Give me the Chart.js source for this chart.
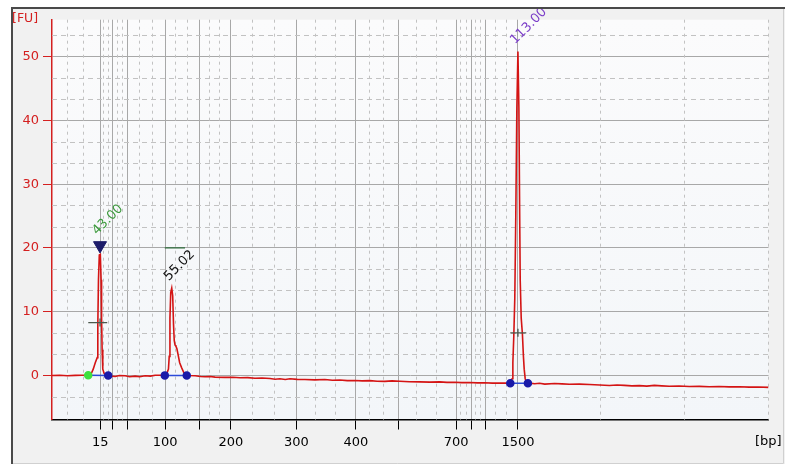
<!DOCTYPE html>
<html>
<head>
<meta charset="utf-8">
<script src="https://cdn.jsdelivr.net/npm/chart.js@4/dist/chart.umd.min.js"></script>
<style>
  html, body { margin:0; padding:0; background:#fff; }
</style>
</head>
<body>
<canvas id="chart" width="785" height="464"></canvas>
<script>
// ladder bands: migration time (s) and size label shown on the axis
const ladderTimes = [43.0, 45.1, 47.55, 53.85, 59.55, 64.9, 75.85, 85.85, 92.9, 102.65, 105.25, 107.6, 113.0];
const ladderLabels = ["15", "", "", "100", "", "200", "300", "400", "", "700", "", "", "1500"];
const yTicks = [0, 10, 20, 30, 40, 50];

// electropherogram trace
const traceTime = [
  34.90, 36.20, 37.50, 38.80, 39.90, 40.60, 41.00, 41.48, 41.81, 42.15, 42.48, 42.58, 42.69, 42.83,
  43.00, 43.13, 43.21, 43.30, 43.41, 43.65, 44.32, 45.00, 45.50, 46.20, 47.17, 47.90, 48.84, 49.60,
  50.52, 51.40, 52.19, 53.36,
  54.10, 54.42, 54.55, 54.67, 54.80, 54.97, 55.13, 55.27, 55.39, 55.52, 55.66, 55.84, 56.05, 56.30,
  56.64, 56.97, 57.31, 57.81,
  58.90, 59.80, 60.56, 61.40, 62.23, 63.90, 65.20, 66.41, 67.70, 68.92, 70.10, 71.43, 72.30, 73.10,
  74.00, 74.78, 76.00, 77.29, 78.97, 80.64, 81.90, 83.15, 84.40, 85.66, 86.90, 88.17, 89.40, 90.68,
  91.90, 93.19, 94.80, 96.54, 98.20, 99.89, 101.10, 102.40, 103.60, 104.91, 106.20, 107.42, 108.70,
  109.93, 111.27,
  111.77, 112.02, 112.15, 112.30, 112.47, 112.64, 112.82, 113.00, 113.16, 113.27, 113.38, 113.55,
  113.75, 113.92, 114.05, 114.22, 114.47, 114.95,
  115.80, 116.62, 117.50, 119.13, 120.40, 121.64, 123.30, 124.99, 126.70, 128.33, 129.60, 130.84,
  132.10, 133.35, 134.60, 135.86, 137.10, 138.37, 140.00, 141.72, 143.40, 145.06, 146.70, 148.41,
  150.10, 151.76, 153.30, 155.00
];
const traceFU = [
  0.00, 0.03, -0.04, 0.02, 0.05, 0.08, 0.15, 0.30, 1.0, 2.0, 2.8, 8.0, 15.0, 18.9,
  19.0, 15.0, 9.0, 4.0, 1.0, 0.3, 0.0, -0.1, -0.15, 0.0, -0.05, -0.2, -0.1, -0.2,
  -0.05, -0.1, 0.05, 0.05,
  0.2, 1.0, 3.0, 9.0, 13.0, 13.7, 12.5, 8.0, 5.5, 4.8, 4.6, 4.2, 3.2, 2.0,
  1.2, 0.5, 0.2, 0.0,
  -0.05, -0.15, -0.2, -0.15, -0.25, -0.3, -0.28, -0.35, -0.33, -0.42, -0.4, -0.48, -0.58, -0.5,
  -0.62, -0.52, -0.6, -0.62, -0.68, -0.62, -0.74, -0.7, -0.8, -0.78, -0.85, -0.8, -0.9, -0.92,
  -0.85, -0.9, -0.98, -1.0, -1.04, -1.0, -1.08, -1.05, -1.12, -1.1, -1.15, -1.13, -1.2,
  -1.18, -1.2,
  -1.1, -0.5, 2.0, 6.0, 12.0, 25.0, 42.0, 50.8, 42.0, 28.0, 15.0, 9.0,
  6.5, 3.0, 1.0, -0.5, -1.1, -1.2,
  -1.3, -1.22, -1.35, -1.25, -1.32, -1.38, -1.35, -1.42, -1.5, -1.56, -1.48, -1.55,
  -1.62, -1.58, -1.66, -1.55, -1.62, -1.68, -1.65, -1.72, -1.7, -1.76, -1.73, -1.78,
  -1.76, -1.82, -1.8, -1.86
];

// called peaks
const peakTimes = [42.95, 54.97, 113.0];
const peakFU = [19.0, 13.7, 50.8];
const peakLabels = ["43.00", "55.02", "113.00"];

// peak start / end (baseline) points
const baseStartTime = [40.97, 53.81, 111.72];
const baseStartFU = [0.05, 0.02, -1.2];
const baseEndTime = [44.32, 57.49, 114.67];
const baseEndFU = [0.0, 0.0, -1.2];

// width markers
const widthFrom = [40.98, 53.81, 111.72];
const widthTo = [44.16, 57.2, 114.4];
const widthLevel = [8.3, 20.0, 6.7];

// selected-peak marker
const markerTime = [42.95];
const markerFU = [20.4];

Chart.defaults.font.family = "'DejaVu Sans', Verdana, sans-serif";

const RED = "#d42020";

// baseline segments, broken with nulls
const basePts = [];
const baseColors = [];
peakTimes.forEach((_, i) => {
  basePts.push({x: baseStartTime[i], y: baseStartFU[i]}, {x: baseEndTime[i], y: baseEndFU[i]}, {x: baseEndTime[i] + 0.01, y: null});
  baseColors.push(i === 0 ? "#3ee03e" : "#1a1aa8", "#1a1aa8", "#1a1aa8");
});

const widthPts = [];
[0, 2].forEach(i => {
  widthPts.push({x: widthFrom[i], y: widthLevel[i]}, {x: widthTo[i], y: widthLevel[i]}, {x: widthTo[i] + 0.01, y: null});
});

const panel = {
  id: "panel",
  beforeDraw(chart){
    const {ctx, chartArea:a} = chart;
    ctx.save();
    ctx.fillStyle = "#f1f1f1";
    ctx.fillRect(0, 0, chart.width, chart.height);
    const g = ctx.createLinearGradient(0, a.top, 0, a.bottom);
    g.addColorStop(0, "#fbfbfc");
    g.addColorStop(1, "#f3f6f9");
    ctx.fillStyle = g;
    ctx.fillRect(a.left, a.top, a.right - a.left, a.bottom - a.top);
    ctx.restore();
  }
};

const minorGrid = {
  id: "minorGrid",
  beforeDatasetsDraw(chart){
    const {ctx, chartArea:a, scales:{x, y}} = chart;
    ctx.save();
    ctx.strokeStyle = "#c2c2c2";
    ctx.lineWidth = 1;
    // vertical: thirds between ladder lines
    ctx.setLineDash([3, 4]);
    const xs = [x.min, ...ladderTimes, x.max];
    const vx = [];
    for (let i = 0; i < xs.length - 1; i++){
      vx.push(xs[i] + (xs[i+1] - xs[i]) / 3, xs[i] + (xs[i+1] - xs[i]) * 2 / 3);
    }
    vx.push(x.max);
    vx.forEach(v => {
      const px = Math.round(x.getPixelForValue(v)) - 0.5;
      ctx.beginPath(); ctx.moveTo(px, a.top); ctx.lineTo(px, a.bottom); ctx.stroke();
    });
    // horizontal: thirds between major ticks
    ctx.setLineDash([5, 4]);
    for (let v = -10; v <= 60; v += 10){
      [v + 10/3, v + 20/3].forEach(h => {
        if (h <= y.min + 0.5 || h >= y.max) return;
        const py = Math.round(y.getPixelForValue(h)) + 0.5;
        ctx.beginPath(); ctx.moveTo(a.left, py); ctx.lineTo(a.right, py); ctx.stroke();
      });
    }
    ctx.restore();
  }
};

const annotate = {
  id: "annotate",
  afterDraw(chart){
    const {ctx, chartArea:a, scales:{x, y}} = chart;
    ctx.save();
    // peak labels
    const cols = ["#3c9a3c", "#111111", "#7a3cc8"];
    ctx.font = "13px 'DejaVu Sans'";
    ctx.textAlign = "left";
    ctx.textBaseline = "alphabetic";
    peakTimes.forEach((t, i) => {
      const px = x.getPixelForValue(t);
      const py = y.getPixelForValue(peakFU[i]);
      const off = i === 0 ? 19 : 7;
      ctx.save();
      ctx.translate(px - 3, py - off);
      ctx.rotate(-Math.PI / 4);
      ctx.fillStyle = cols[i];
      ctx.fillText(peakLabels[i], 0, 0);
      ctx.restore();
    });
    // axis units
    ctx.fillStyle = "#000";
    ctx.font = "13px 'DejaVu Sans'";
    ctx.textBaseline = "middle";
    ctx.fillText("[bp]", 755, 442);
    ctx.fillStyle = RED;
    ctx.font = "12.5px 'DejaVu Sans'";
    ctx.fillText("[FU]", 12, 19);
    // outer frame
    ctx.fillStyle = "#fff";
    ctx.fillRect(0, 0, chart.width, 7);
    ctx.fillRect(0, 0, 11, chart.height);
    ctx.strokeStyle = "#d0d0d0";
    ctx.lineWidth = 1;
    ctx.beginPath(); ctx.moveTo(783.5, 7); ctx.lineTo(783.5, 463.5); ctx.lineTo(11, 463.5); ctx.stroke();
    ctx.strokeStyle = "#4a4a4a";
    ctx.lineWidth = 2;
    ctx.beginPath(); ctx.moveTo(785, 8); ctx.lineTo(12, 8); ctx.lineTo(12, 464); ctx.stroke();
    ctx.restore();
  }
};

new Chart(document.getElementById("chart"), {
  type: "line",
  data: {
    datasets: [
      {
        data: markerTime.map((t, i) => ({x: t, y: markerFU[i]})),
        showLine: false, pointStyle: "triangle", rotation: 180, pointRadius: 7.5,
        pointBackgroundColor: "#1c1c6a", pointBorderColor: "#1c1c6a", order: 1
      },
      {
        data: basePts, spanGaps: false, borderColor: "#2a4ad8", borderWidth: 1.5,
        pointRadius: 3.5, pointBackgroundColor: baseColors, pointBorderColor: baseColors, order: 2
      },
      {
        data: widthPts, spanGaps: false, borderColor: "#4c584c", borderWidth: 1.3, pointRadius: 0, order: 3
      },
      {
        data: [0, 2].map(i => ({x: peakTimes[i], y: widthLevel[i]})),
        showLine: false, pointStyle: "line", rotation: 90, pointRadius: 4,
        pointBorderColor: "#4c584c", pointBorderWidth: 1.3, order: 3
      },
      {
        data: [{x: widthFrom[1], y: widthLevel[1]}, {x: widthTo[1], y: widthLevel[1]}],
        borderColor: "#2d6a3a", borderWidth: 1.3, pointRadius: 0, order: 3
      },
      {
        data: traceTime.map((t, i) => ({x: t, y: traceFU[i]})),
        borderColor: "#d41414", borderWidth: 1.6, pointRadius: 0, tension: 0, order: 5
      }
    ]
  },
  options: {
    responsive: false,
    animation: false,
    layout: {padding: {left: 0, top: 19.7, right: 16.5, bottom: 0}},
    plugins: {legend: {display: false}, tooltip: {enabled: false}},
    scales: {
      x: {
        type: "linear", min: 34.9, max: 155,
        afterBuildTicks: s => { s.ticks = ladderTimes.map(v => ({value: v})); },
        afterFit: s => { s.height = 44.5; },
        ticks: {
          autoSkip: false, maxRotation: 0, color: "#000", padding: 5,
          font: {size: 13},
          callback: (v, i) => ladderLabels[i]
        },
        grid: {color: "#a8a8a8", lineWidth: 1, tickColor: "#000", tickLength: 10},
        border: {color: "#000", width: 1.5}
      },
      y: {
        type: "linear", min: -6.9, max: 55.8,
        afterBuildTicks: s => { s.ticks = yTicks.map(v => ({value: v})); },
        afterFit: s => { s.width = 52; },
        ticks: {color: RED, padding: 4, font: {size: 13}},
        grid: {color: "#a8a8a8", lineWidth: 1, tickColor: RED, tickLength: 9},
        border: {color: RED, width: 1.5}
      }
    }
  },
  plugins: [panel, minorGrid, annotate]
});
</script>
</body>
</html>
